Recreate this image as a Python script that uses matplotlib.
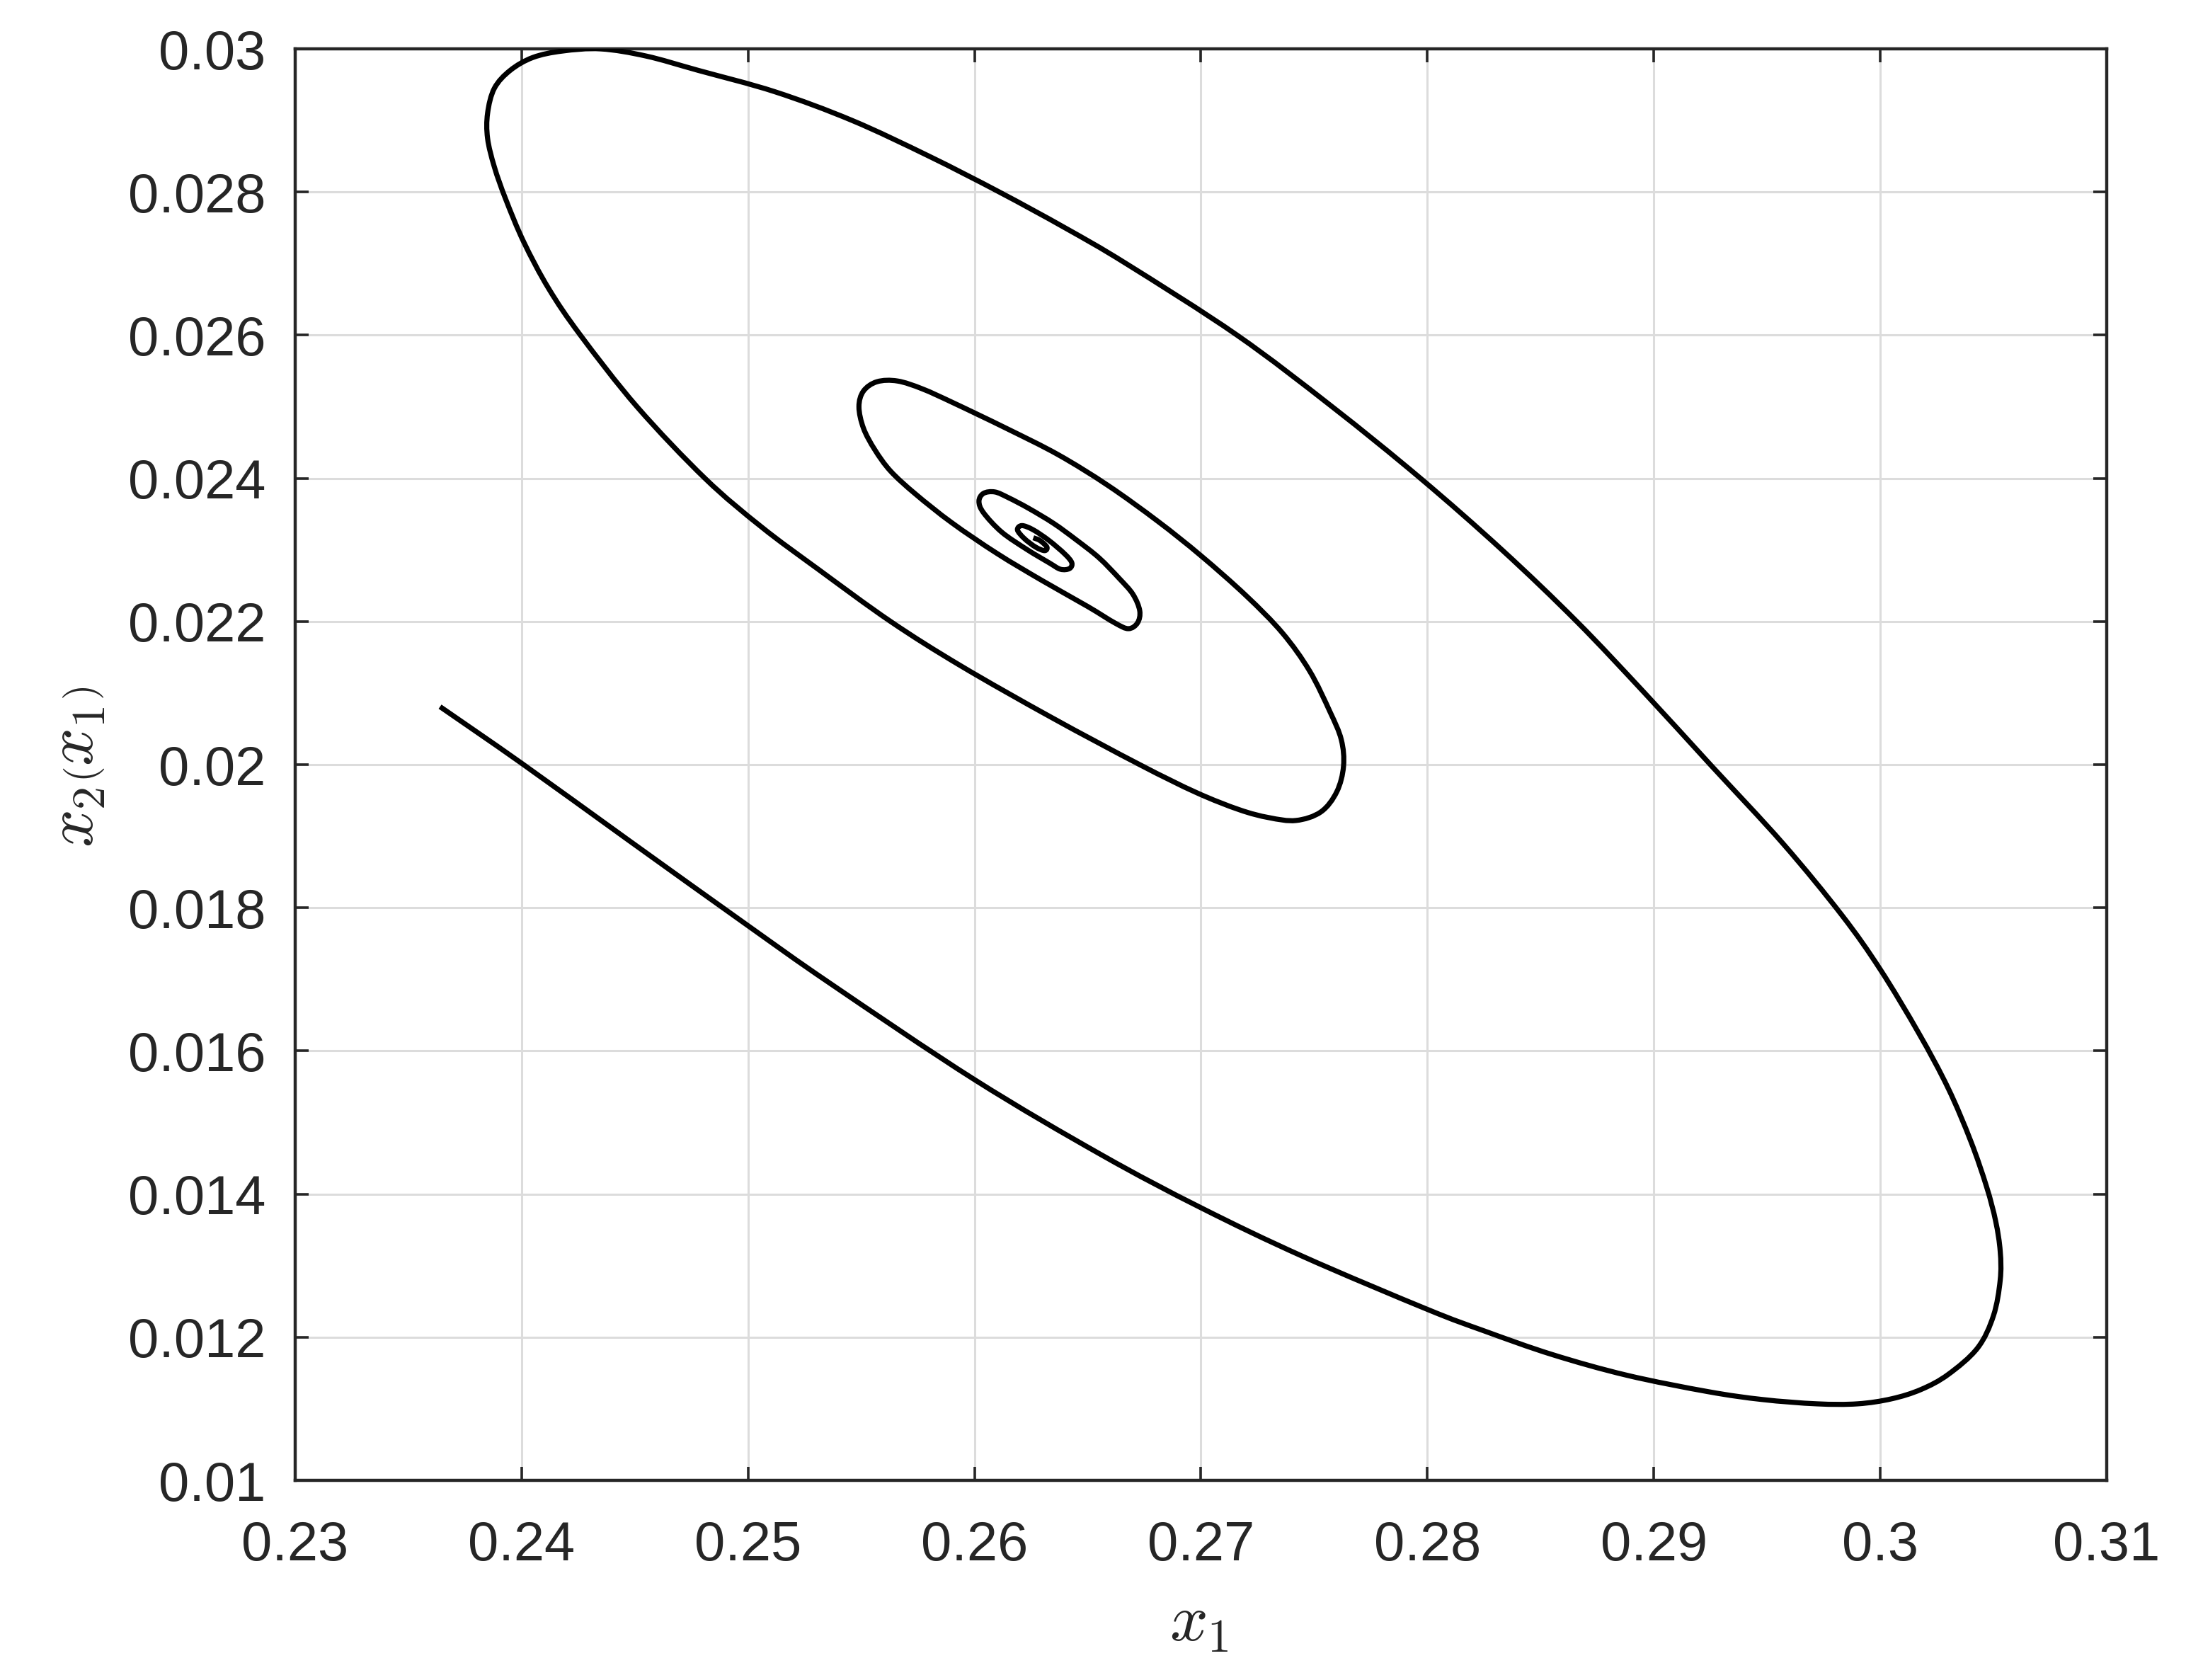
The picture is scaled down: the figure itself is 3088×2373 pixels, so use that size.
import matplotlib
matplotlib.use("Agg")
import matplotlib.pyplot as plt
import numpy as np
from matplotlib.path import Path
from matplotlib.patches import PathPatch

# ---- data (trajectory in the x1-x2 phase plane) ----
# outer revolution: lower branch
x1_lower = [0.2364, 0.2400, 0.2447, 0.2500, 0.2536, 0.2600, 0.2656, 0.2700, 0.2745,
            0.2800, 0.2825, 0.2855, 0.2888, 0.2924, 0.2948, 0.2972, 0.2990, 0.3005]
x2_lower = [0.02081, 0.02002, 0.01895, 0.01775, 0.01695, 0.01560, 0.01455, 0.01381, 0.01313,
            0.01239, 0.01209, 0.01176, 0.01147, 0.01124, 0.01113, 0.01107, 0.01107, 0.01114]
# outer revolution: right turn and upper branch
x1_upper = [0.3018, 0.3030, 0.3043, 0.3050, 0.3053, 0.3053, 0.3051, 0.3047, 0.3040,
            0.3030, 0.3017, 0.3000, 0.2983, 0.2957, 0.2925, 0.2896, 0.2866, 0.2833,
            0.2797, 0.2758, 0.2716, 0.2667, 0.2640, 0.2611, 0.2580, 0.2546, 0.2512,
            0.2478, 0.2455, 0.2435]
x2_upper = [0.01127, 0.01148, 0.01185, 0.01230, 0.01280, 0.01320, 0.01362, 0.01410, 0.01474,
            0.01548, 0.01625, 0.01714, 0.01790, 0.01890, 0.02000, 0.02100, 0.02200, 0.02300,
            0.02400, 0.02500, 0.02600, 0.02700, 0.02750, 0.02800, 0.02850, 0.02900, 0.02940,
            0.02970, 0.02990, 0.03000]
# outer revolution: left turn and descending inner branch down to the first inner turn
x1_left = [0.2418, 0.2405, 0.2395, 0.2388, 0.2385, 0.2385, 0.2388, 0.2393, 0.2401,
           0.2412, 0.2426, 0.2451, 0.2481, 0.2506, 0.2531, 0.2563, 0.2594, 0.2634,
           0.2673, 0.2698, 0.2717, 0.2730, 0.2742, 0.2753, 0.2760, 0.2763, 0.2762]
x2_left = [0.02997, 0.02988, 0.02970, 0.02945, 0.02910, 0.02875, 0.02835, 0.02790, 0.02730,
           0.02665, 0.02600, 0.02500, 0.02400, 0.02332, 0.02273, 0.02200, 0.02138, 0.02066,
           0.02000, 0.01961, 0.01937, 0.01926, 0.01922, 0.01934, 0.01962, 0.01998, 0.02035]
# inner revolutions converging to the focus
x1_inner = [0.2757, 0.2748, 0.2736, 0.2720, 0.2700, 0.2681, 0.2659, 0.2637, 0.2614,
            0.2591, 0.2577, 0.2566, 0.2557, 0.2551, 0.2549, 0.2551, 0.2556, 0.2563,
            0.2574, 0.2590, 0.2610, 0.2630, 0.2650, 0.2662, 0.2668, 0.2672, 0.2673, 0.2670,
            0.2664, 0.2655, 0.2645, 0.2635, 0.2624, 0.2615, 0.2609, 0.2604, 0.2602,
            0.2604, 0.2612, 0.2623, 0.2633, 0.2638, 0.2642, 0.2643, 0.2640, 0.2633,
            0.2626, 0.2621, 0.2619, 0.2622, 0.2627, 0.2631, 0.2632, 0.2629, 0.2626]
x2_inner = [0.02074, 0.02131, 0.02184, 0.02236, 0.02292, 0.02340, 0.02390, 0.02433, 0.02470,
            0.02505, 0.02525, 0.02536, 0.02535, 0.02522, 0.02500, 0.02470, 0.02440, 0.02410,
            0.02378, 0.02338, 0.02295, 0.02257, 0.02221, 0.02198, 0.02190, 0.02198, 0.02215, 0.02238,
            0.02260, 0.02289, 0.02314, 0.02337, 0.02358, 0.02373, 0.02381, 0.02379, 0.02368,
            0.02352, 0.02325, 0.02301, 0.02282, 0.02273, 0.02274, 0.02282, 0.02294, 0.02313,
            0.02328, 0.02334, 0.02328, 0.02316, 0.02304, 0.02299, 0.02304, 0.02313, 0.02317]

x1 = x1_lower + x1_upper + x1_left + x1_inner
x2 = x2_lower + x2_upper + x2_left + x2_inner

xticks = [0.23, 0.24, 0.25, 0.26, 0.27, 0.28, 0.29, 0.30, 0.31]
xtick_labels = ["0.23", "0.24", "0.25", "0.26", "0.27", "0.28", "0.29", "0.3", "0.31"]
yticks = [0.010, 0.012, 0.014, 0.016, 0.018, 0.020, 0.022, 0.024, 0.026, 0.028, 0.030]
ytick_labels = ["0.01", "0.012", "0.014", "0.016", "0.018", "0.02",
                "0.022", "0.024", "0.026", "0.028", "0.03"]

plt.rcParams["font.family"] = ["Liberation Sans", "DejaVu Sans"]
plt.rcParams["mathtext.fontset"] = "cm"

fig = plt.figure(figsize=(15.44, 11.865), dpi=200)
ax = fig.add_axes([0.135, 0.1188, 0.8287, 0.8521])

# smooth curve through the read points (Catmull-Rom rendered as cubic Bezier path)
P = np.column_stack([x1, x2])
Pext = np.vstack([P[0], P, P[-1]])
verts = [P[0]]
codes = [Path.MOVETO]
for i in range(len(P) - 1):
    p0, p1, p2, p3 = Pext[i], Pext[i + 1], Pext[i + 2], Pext[i + 3]
    c1 = p1 + (p2 - p0) / 6.0
    c2 = p2 - (p3 - p1) / 6.0
    verts += [c1, c2, p2]
    codes += [Path.CURVE4] * 3
patch = PathPatch(Path(verts, codes), facecolor="none", edgecolor="black",
                  lw=2.6, joinstyle="round", capstyle="butt", zorder=3,
                  transform=ax.transData)
ax.add_patch(patch)

ax.set_xlim(0.23, 0.31)
ax.set_ylim(0.01, 0.03)
ax.set_xticks(xticks)
ax.set_xticklabels(xtick_labels)
ax.set_yticks(yticks)
ax.set_yticklabels(ytick_labels)

txt_col = "#262626"
ax.grid(True, color="#dcdcdc", lw=1.1, zorder=0)
ax.set_axisbelow(True)
for s in ax.spines.values():
    s.set_color(txt_col)
    s.set_linewidth(1.6)
ax.tick_params(axis="both", which="both", direction="in", length=7, width=1.3,
               top=True, right=True, colors=txt_col, labelsize=28)
ax.tick_params(axis="x", pad=20)
ax.tick_params(axis="y", pad=15)

ax.set_xlabel(r"$x_1$", fontsize=34, color=txt_col)
ax.xaxis.set_label_coords(0.499, -0.100)
ax.xaxis.label.set_va("center")
ax.set_ylabel(r"$x_2\left(x_1\right)$", fontsize=34, color=txt_col)
ax.yaxis.set_label_coords(-0.121, 0.4985)
ax.yaxis.label.set_va("center")

fig.savefig("out.png", dpi=200, facecolor="white")
